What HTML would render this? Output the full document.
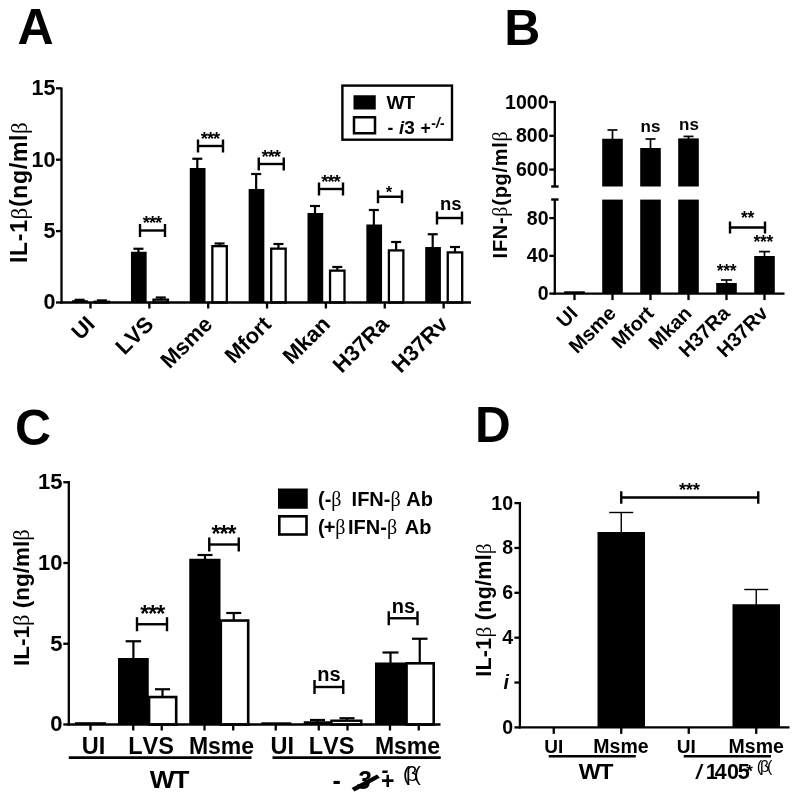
<!DOCTYPE html>
<html lang="en"><head><meta charset="utf-8"><title>Figure</title>
<style>html,body{margin:0;padding:0;background:#fff;}body{width:800px;height:800px;overflow:hidden;}svg{display:block;}text{font-family:"Liberation Sans", Arial, Helvetica, sans-serif;fill:#000;font-kerning:none;}</style></head><body>
<svg width="800" height="800" viewBox="0 0 800 800">
<rect x="0" y="0" width="800" height="800" fill="#fff"/>
<text x="17.40" y="44.00" font-size="50" font-weight="bold" text-anchor="start">A</text>
<text x="504.35" y="45.00" font-size="50" font-weight="bold" text-anchor="start">B</text>
<text x="14.90" y="445.00" font-size="50" font-weight="bold" text-anchor="start">C</text>
<text x="475.10" y="442.00" font-size="49.5" font-weight="bold" text-anchor="start">D</text>
<line x1="79.60" y1="299.80" x2="79.60" y2="301.20" stroke="#000" stroke-width="2.2"/>
<line x1="74.60" y1="299.80" x2="84.60" y2="299.80" stroke="#000" stroke-width="2.2"/>
<rect x="72.10" y="300.20" width="15.70" height="2.30" fill="#000"/>
<line x1="101.90" y1="300.40" x2="101.90" y2="301.60" stroke="#000" stroke-width="2.2"/>
<line x1="96.90" y1="300.40" x2="106.90" y2="300.40" stroke="#000" stroke-width="2.2"/>
<rect x="94.65" y="301.75" width="14.45" height="0.75" fill="#fff" stroke="#000" stroke-width="2.3"/>
<line x1="138.45" y1="248.75" x2="138.45" y2="252.75" stroke="#000" stroke-width="2.2"/>
<line x1="133.45" y1="248.75" x2="143.45" y2="248.75" stroke="#000" stroke-width="2.2"/>
<rect x="130.95" y="251.75" width="15.70" height="50.75" fill="#000"/>
<line x1="160.75" y1="297.50" x2="160.75" y2="299.50" stroke="#000" stroke-width="2.2"/>
<line x1="155.75" y1="297.50" x2="165.75" y2="297.50" stroke="#000" stroke-width="2.2"/>
<rect x="153.50" y="299.65" width="14.45" height="2.85" fill="#fff" stroke="#000" stroke-width="2.3"/>
<line x1="197.30" y1="158.75" x2="197.30" y2="169.00" stroke="#000" stroke-width="2.2"/>
<line x1="192.30" y1="158.75" x2="202.30" y2="158.75" stroke="#000" stroke-width="2.2"/>
<rect x="189.80" y="168.00" width="15.70" height="134.50" fill="#000"/>
<line x1="219.60" y1="243.50" x2="219.60" y2="246.00" stroke="#000" stroke-width="2.2"/>
<line x1="214.60" y1="243.50" x2="224.60" y2="243.50" stroke="#000" stroke-width="2.2"/>
<rect x="212.35" y="246.15" width="14.45" height="56.35" fill="#fff" stroke="#000" stroke-width="2.3"/>
<line x1="256.15" y1="174.00" x2="256.15" y2="190.00" stroke="#000" stroke-width="2.2"/>
<line x1="251.15" y1="174.00" x2="261.15" y2="174.00" stroke="#000" stroke-width="2.2"/>
<rect x="248.65" y="189.00" width="15.70" height="113.50" fill="#000"/>
<line x1="278.45" y1="244.00" x2="278.45" y2="248.50" stroke="#000" stroke-width="2.2"/>
<line x1="273.45" y1="244.00" x2="283.45" y2="244.00" stroke="#000" stroke-width="2.2"/>
<rect x="271.20" y="248.65" width="14.45" height="53.85" fill="#fff" stroke="#000" stroke-width="2.3"/>
<line x1="315.00" y1="206.00" x2="315.00" y2="214.00" stroke="#000" stroke-width="2.2"/>
<line x1="310.00" y1="206.00" x2="320.00" y2="206.00" stroke="#000" stroke-width="2.2"/>
<rect x="307.50" y="213.00" width="15.70" height="89.50" fill="#000"/>
<line x1="337.30" y1="267.00" x2="337.30" y2="270.50" stroke="#000" stroke-width="2.2"/>
<line x1="332.30" y1="267.00" x2="342.30" y2="267.00" stroke="#000" stroke-width="2.2"/>
<rect x="330.05" y="270.65" width="14.45" height="31.85" fill="#fff" stroke="#000" stroke-width="2.3"/>
<line x1="373.85" y1="210.00" x2="373.85" y2="225.50" stroke="#000" stroke-width="2.2"/>
<line x1="368.85" y1="210.00" x2="378.85" y2="210.00" stroke="#000" stroke-width="2.2"/>
<rect x="366.35" y="224.50" width="15.70" height="78.00" fill="#000"/>
<line x1="396.15" y1="242.00" x2="396.15" y2="250.25" stroke="#000" stroke-width="2.2"/>
<line x1="391.15" y1="242.00" x2="401.15" y2="242.00" stroke="#000" stroke-width="2.2"/>
<rect x="388.90" y="250.40" width="14.45" height="52.10" fill="#fff" stroke="#000" stroke-width="2.3"/>
<line x1="432.70" y1="234.25" x2="432.70" y2="248.00" stroke="#000" stroke-width="2.2"/>
<line x1="427.70" y1="234.25" x2="437.70" y2="234.25" stroke="#000" stroke-width="2.2"/>
<rect x="425.20" y="247.00" width="15.70" height="55.50" fill="#000"/>
<line x1="455.00" y1="247.00" x2="455.00" y2="252.25" stroke="#000" stroke-width="2.2"/>
<line x1="450.00" y1="247.00" x2="460.00" y2="247.00" stroke="#000" stroke-width="2.2"/>
<rect x="447.75" y="252.40" width="14.45" height="50.10" fill="#fff" stroke="#000" stroke-width="2.3"/>
<line x1="61.50" y1="87.50" x2="61.50" y2="303.50" stroke="#000" stroke-width="2.3"/>
<line x1="60.50" y1="302.50" x2="471.00" y2="302.50" stroke="#000" stroke-width="2.3"/>
<line x1="56.00" y1="302.50" x2="61.50" y2="302.50" stroke="#000" stroke-width="2.3"/>
<text x="55.50" y="309.40" font-size="21.5" font-weight="bold" text-anchor="end">0</text>
<line x1="56.00" y1="231.10" x2="61.50" y2="231.10" stroke="#000" stroke-width="2.3"/>
<text x="55.50" y="238.00" font-size="21.5" font-weight="bold" text-anchor="end">5</text>
<line x1="56.00" y1="159.70" x2="61.50" y2="159.70" stroke="#000" stroke-width="2.3"/>
<text x="55.50" y="166.60" font-size="21.5" font-weight="bold" text-anchor="end">10</text>
<line x1="56.00" y1="88.30" x2="61.50" y2="88.30" stroke="#000" stroke-width="2.3"/>
<text x="55.50" y="95.20" font-size="21.5" font-weight="bold" text-anchor="end">15</text>
<line x1="90.50" y1="302.50" x2="90.50" y2="308.50" stroke="#000" stroke-width="2.3"/>
<line x1="149.35" y1="302.50" x2="149.35" y2="308.50" stroke="#000" stroke-width="2.3"/>
<line x1="208.20" y1="302.50" x2="208.20" y2="308.50" stroke="#000" stroke-width="2.3"/>
<line x1="267.05" y1="302.50" x2="267.05" y2="308.50" stroke="#000" stroke-width="2.3"/>
<line x1="325.90" y1="302.50" x2="325.90" y2="308.50" stroke="#000" stroke-width="2.3"/>
<line x1="384.75" y1="302.50" x2="384.75" y2="308.50" stroke="#000" stroke-width="2.3"/>
<line x1="443.60" y1="302.50" x2="443.60" y2="308.50" stroke="#000" stroke-width="2.3"/>
<text transform="translate(96.00,325.50) rotate(-45)" font-size="22" font-weight="bold" text-anchor="end">UI</text>
<text transform="translate(154.85,325.50) rotate(-45)" font-size="22" font-weight="bold" text-anchor="end">LVS</text>
<text transform="translate(213.70,325.50) rotate(-45)" font-size="22" font-weight="bold" text-anchor="end">Msme</text>
<text transform="translate(272.55,325.50) rotate(-45)" font-size="22" font-weight="bold" text-anchor="end">Mfort</text>
<text transform="translate(331.40,325.50) rotate(-45)" font-size="22" font-weight="bold" text-anchor="end">Mkan</text>
<text transform="translate(390.25,325.50) rotate(-45)" font-size="22" font-weight="bold" text-anchor="end">H37Ra</text>
<text transform="translate(449.10,325.50) rotate(-45)" font-size="22" font-weight="bold" text-anchor="end">H37Rv</text>
<text transform="translate(27.00,263.00) rotate(-90)" font-size="23" font-weight="bold" text-anchor="start" letter-spacing="0.68">IL-1<tspan font-family='"Liberation Serif", "DejaVu Serif", serif' font-weight="normal">β</tspan>(ng/ml<tspan font-family='"Liberation Serif", "DejaVu Serif", serif' font-weight="normal">β</tspan></text>
<line x1="140.00" y1="230.50" x2="165.00" y2="230.50" stroke="#000" stroke-width="2.4"/>
<line x1="140.00" y1="224.00" x2="140.00" y2="237.00" stroke="#000" stroke-width="2.4"/>
<line x1="165.00" y1="224.00" x2="165.00" y2="237.00" stroke="#000" stroke-width="2.4"/>
<text x="152.00" y="229.30" font-size="18.5" font-weight="bold" text-anchor="middle" letter-spacing="-1">***</text>
<line x1="198.00" y1="146.00" x2="223.00" y2="146.00" stroke="#000" stroke-width="2.4"/>
<line x1="198.00" y1="139.50" x2="198.00" y2="152.50" stroke="#000" stroke-width="2.4"/>
<line x1="223.00" y1="139.50" x2="223.00" y2="152.50" stroke="#000" stroke-width="2.4"/>
<text x="210.00" y="144.80" font-size="18.5" font-weight="bold" text-anchor="middle" letter-spacing="-1">***</text>
<line x1="258.75" y1="164.00" x2="283.75" y2="164.00" stroke="#000" stroke-width="2.4"/>
<line x1="258.75" y1="157.50" x2="258.75" y2="170.50" stroke="#000" stroke-width="2.4"/>
<line x1="283.75" y1="157.50" x2="283.75" y2="170.50" stroke="#000" stroke-width="2.4"/>
<text x="270.75" y="162.80" font-size="18.5" font-weight="bold" text-anchor="middle" letter-spacing="-1">***</text>
<line x1="319.00" y1="189.00" x2="343.00" y2="189.00" stroke="#000" stroke-width="2.4"/>
<line x1="319.00" y1="182.50" x2="319.00" y2="195.50" stroke="#000" stroke-width="2.4"/>
<line x1="343.00" y1="182.50" x2="343.00" y2="195.50" stroke="#000" stroke-width="2.4"/>
<text x="330.50" y="187.80" font-size="18.5" font-weight="bold" text-anchor="middle" letter-spacing="-1">***</text>
<line x1="378.00" y1="196.75" x2="402.00" y2="196.75" stroke="#000" stroke-width="2.4"/>
<line x1="378.00" y1="190.25" x2="378.00" y2="203.25" stroke="#000" stroke-width="2.4"/>
<line x1="402.00" y1="190.25" x2="402.00" y2="203.25" stroke="#000" stroke-width="2.4"/>
<text x="389.00" y="197.55" font-size="16.5" font-weight="bold" text-anchor="middle">*</text>
<line x1="437.00" y1="218.00" x2="462.00" y2="218.00" stroke="#000" stroke-width="2.4"/>
<line x1="437.00" y1="211.50" x2="437.00" y2="224.50" stroke="#000" stroke-width="2.4"/>
<line x1="462.00" y1="211.50" x2="462.00" y2="224.50" stroke="#000" stroke-width="2.4"/>
<text x="450.75" y="210.00" font-size="18.5" font-weight="bold" text-anchor="middle">ns</text>
<rect x="342.4" y="85.6" width="109.6" height="54.1" fill="#fff" stroke="#000" stroke-width="2.4"/>
<rect x="353.50" y="95.25" width="22.25" height="14.25" fill="#000"/>
<rect x="354.00" y="117.25" width="21.00" height="16.00" fill="#fff" stroke="#000" stroke-width="2.5"/>
<text transform="translate(386.6,108.9) scale(1.07,1)" font-size="17.8" font-weight="bold" letter-spacing="-1">WT</text>
<text x="387.5" y="133.75" font-size="17.5" font-weight="bold">- <tspan font-style="italic" dx="0.8" font-size="18.5">i</tspan><tspan font-size="19">3</tspan> <tspan dx="1">+</tspan><tspan font-style="italic" font-size="14" dy="-6" dx="0.5">-/-</tspan></text>
<rect x="564.20" y="291.30" width="20.60" height="2.30" fill="#000"/>
<rect x="602.20" y="199.60" width="20.60" height="94.00" fill="#000"/>
<line x1="612.50" y1="130.00" x2="612.50" y2="139.75" stroke="#000" stroke-width="1.7"/>
<line x1="607.50" y1="130.00" x2="617.50" y2="130.00" stroke="#000" stroke-width="1.7"/>
<rect x="602.20" y="138.75" width="20.60" height="47.75" fill="#000"/>
<rect x="640.20" y="199.60" width="20.60" height="94.00" fill="#000"/>
<line x1="650.50" y1="139.00" x2="650.50" y2="149.00" stroke="#000" stroke-width="1.7"/>
<line x1="645.50" y1="139.00" x2="655.50" y2="139.00" stroke="#000" stroke-width="1.7"/>
<rect x="640.20" y="148.00" width="20.60" height="38.50" fill="#000"/>
<rect x="678.20" y="199.60" width="20.60" height="94.00" fill="#000"/>
<line x1="688.50" y1="136.40" x2="688.50" y2="139.40" stroke="#000" stroke-width="1.7"/>
<line x1="683.50" y1="136.40" x2="693.50" y2="136.40" stroke="#000" stroke-width="1.7"/>
<rect x="678.20" y="138.40" width="20.60" height="48.10" fill="#000"/>
<line x1="726.50" y1="280.00" x2="726.50" y2="284.00" stroke="#000" stroke-width="1.7"/>
<line x1="721.00" y1="280.00" x2="732.00" y2="280.00" stroke="#000" stroke-width="1.7"/>
<rect x="716.20" y="283.00" width="20.60" height="10.60" fill="#000"/>
<line x1="764.50" y1="251.60" x2="764.50" y2="257.00" stroke="#000" stroke-width="1.7"/>
<line x1="759.00" y1="251.60" x2="770.00" y2="251.60" stroke="#000" stroke-width="1.7"/>
<rect x="754.20" y="256.00" width="20.60" height="37.60" fill="#000"/>
<line x1="554.80" y1="101.00" x2="554.80" y2="186.50" stroke="#000" stroke-width="2.3"/>
<line x1="551.20" y1="186.50" x2="558.60" y2="186.50" stroke="#000" stroke-width="2.4"/>
<line x1="554.80" y1="199.50" x2="554.80" y2="294.60" stroke="#000" stroke-width="2.3"/>
<line x1="551.20" y1="199.50" x2="558.60" y2="199.50" stroke="#000" stroke-width="2.4"/>
<line x1="553.80" y1="293.60" x2="784.50" y2="293.60" stroke="#000" stroke-width="2.3"/>
<line x1="549.30" y1="169.60" x2="554.80" y2="169.60" stroke="#000" stroke-width="2.3"/>
<text x="548.50" y="176.20" font-size="19.5" font-weight="bold" text-anchor="end">600</text>
<line x1="549.30" y1="135.80" x2="554.80" y2="135.80" stroke="#000" stroke-width="2.3"/>
<text x="548.50" y="142.40" font-size="19.5" font-weight="bold" text-anchor="end">800</text>
<line x1="549.30" y1="102.00" x2="554.80" y2="102.00" stroke="#000" stroke-width="2.3"/>
<text x="548.50" y="108.60" font-size="19.5" font-weight="bold" text-anchor="end">1000</text>
<line x1="549.30" y1="293.60" x2="554.80" y2="293.60" stroke="#000" stroke-width="2.3"/>
<text x="548.50" y="300.20" font-size="19.5" font-weight="bold" text-anchor="end">0</text>
<line x1="549.30" y1="255.85" x2="554.80" y2="255.85" stroke="#000" stroke-width="2.3"/>
<text x="548.50" y="262.45" font-size="19.5" font-weight="bold" text-anchor="end">40</text>
<line x1="549.30" y1="218.10" x2="554.80" y2="218.10" stroke="#000" stroke-width="2.3"/>
<text x="548.50" y="224.70" font-size="19.5" font-weight="bold" text-anchor="end">80</text>
<line x1="574.50" y1="293.60" x2="574.50" y2="300.10" stroke="#000" stroke-width="2.3"/>
<line x1="612.50" y1="293.60" x2="612.50" y2="300.10" stroke="#000" stroke-width="2.3"/>
<line x1="650.50" y1="293.60" x2="650.50" y2="300.10" stroke="#000" stroke-width="2.3"/>
<line x1="688.50" y1="293.60" x2="688.50" y2="300.10" stroke="#000" stroke-width="2.3"/>
<line x1="726.50" y1="293.60" x2="726.50" y2="300.10" stroke="#000" stroke-width="2.3"/>
<line x1="764.50" y1="293.60" x2="764.50" y2="300.10" stroke="#000" stroke-width="2.3"/>
<text transform="translate(579.00,314.50) rotate(-45)" font-size="20" font-weight="bold" text-anchor="end">UI</text>
<text transform="translate(617.00,314.50) rotate(-45)" font-size="20" font-weight="bold" text-anchor="end">Msme</text>
<text transform="translate(655.00,314.50) rotate(-45)" font-size="20" font-weight="bold" text-anchor="end">Mfort</text>
<text transform="translate(693.00,314.50) rotate(-45)" font-size="20" font-weight="bold" text-anchor="end">Mkan</text>
<text transform="translate(731.00,314.50) rotate(-45)" font-size="20" font-weight="bold" text-anchor="end">H37Ra</text>
<text transform="translate(769.00,314.50) rotate(-45)" font-size="20" font-weight="bold" text-anchor="end">H37Rv</text>
<text transform="translate(507.00,258.40) rotate(-90)" font-size="20" font-weight="bold" text-anchor="start" letter-spacing="0.72">IFN-<tspan font-family='"Liberation Serif", "DejaVu Serif", serif' font-weight="normal">β</tspan>(pg/ml<tspan font-family='"Liberation Serif", "DejaVu Serif", serif' font-weight="normal">β</tspan></text>
<text x="650.50" y="131.50" font-size="17" font-weight="bold" text-anchor="middle">ns</text>
<text x="689.00" y="130.00" font-size="17" font-weight="bold" text-anchor="middle">ns</text>
<text x="726.60" y="277.00" font-size="17.5" font-weight="bold" text-anchor="middle" letter-spacing="-0.3">***</text>
<text x="763.30" y="247.80" font-size="17.5" font-weight="bold" text-anchor="middle" letter-spacing="-0.3">***</text>
<line x1="730.00" y1="227.50" x2="765.00" y2="227.50" stroke="#000" stroke-width="2.4"/>
<line x1="730.00" y1="221.50" x2="730.00" y2="233.50" stroke="#000" stroke-width="2.4"/>
<line x1="765.00" y1="221.50" x2="765.00" y2="233.50" stroke="#000" stroke-width="2.4"/>
<text x="747.40" y="223.80" font-size="17.5" font-weight="bold" text-anchor="middle" letter-spacing="-0.3">**</text>
<rect x="75.00" y="722.20" width="31.00" height="2.30" fill="#000"/>
<line x1="133.40" y1="641.25" x2="133.40" y2="659.00" stroke="#000" stroke-width="2.2"/>
<line x1="125.65" y1="641.25" x2="141.15" y2="641.25" stroke="#000" stroke-width="2.2"/>
<rect x="118.00" y="658.00" width="30.75" height="66.50" fill="#000"/>
<line x1="162.50" y1="689.25" x2="162.50" y2="697.00" stroke="#000" stroke-width="2.2"/>
<line x1="155.00" y1="689.25" x2="170.00" y2="689.25" stroke="#000" stroke-width="2.2"/>
<rect x="149.05" y="697.05" width="27.15" height="27.45" fill="#fff" stroke="#000" stroke-width="2.6"/>
<line x1="205.00" y1="555.00" x2="205.00" y2="560.00" stroke="#000" stroke-width="2.2"/>
<line x1="197.50" y1="555.00" x2="212.50" y2="555.00" stroke="#000" stroke-width="2.2"/>
<rect x="189.25" y="558.75" width="31.25" height="165.75" fill="#000"/>
<line x1="233.75" y1="613.00" x2="233.75" y2="620.00" stroke="#000" stroke-width="2.2"/>
<line x1="226.25" y1="613.00" x2="241.25" y2="613.00" stroke="#000" stroke-width="2.2"/>
<rect x="220.80" y="620.55" width="27.40" height="103.95" fill="#fff" stroke="#000" stroke-width="2.6"/>
<rect x="261.25" y="722.30" width="30.00" height="2.20" fill="#000"/>
<line x1="317.50" y1="720.00" x2="317.50" y2="722.00" stroke="#000" stroke-width="2.2"/>
<line x1="310.00" y1="720.00" x2="325.00" y2="720.00" stroke="#000" stroke-width="2.2"/>
<rect x="303.75" y="721.25" width="27.50" height="3.25" fill="#000"/>
<line x1="347.00" y1="718.25" x2="347.00" y2="720.00" stroke="#000" stroke-width="2.2"/>
<line x1="339.50" y1="718.25" x2="354.50" y2="718.25" stroke="#000" stroke-width="2.2"/>
<rect x="331.45" y="720.70" width="29.85" height="3.80" fill="#fff" stroke="#000" stroke-width="2.4"/>
<line x1="390.50" y1="652.50" x2="390.50" y2="664.00" stroke="#000" stroke-width="2.2"/>
<line x1="382.50" y1="652.50" x2="398.50" y2="652.50" stroke="#000" stroke-width="2.2"/>
<rect x="375.00" y="662.50" width="31.25" height="62.00" fill="#000"/>
<line x1="419.75" y1="638.75" x2="419.75" y2="663.00" stroke="#000" stroke-width="2.2"/>
<line x1="412.00" y1="638.75" x2="427.50" y2="638.75" stroke="#000" stroke-width="2.2"/>
<rect x="406.55" y="663.30" width="27.15" height="61.20" fill="#fff" stroke="#000" stroke-width="2.6"/>
<line x1="68.80" y1="481.00" x2="68.80" y2="725.50" stroke="#000" stroke-width="2.3"/>
<line x1="67.80" y1="724.50" x2="440.50" y2="724.50" stroke="#000" stroke-width="2.3"/>
<line x1="63.30" y1="724.50" x2="68.80" y2="724.50" stroke="#000" stroke-width="2.3"/>
<text x="62.50" y="731.40" font-size="22" font-weight="bold" text-anchor="end">0</text>
<line x1="63.30" y1="643.75" x2="68.80" y2="643.75" stroke="#000" stroke-width="2.3"/>
<text x="62.50" y="650.65" font-size="22" font-weight="bold" text-anchor="end">5</text>
<line x1="63.30" y1="563.00" x2="68.80" y2="563.00" stroke="#000" stroke-width="2.3"/>
<text x="62.50" y="569.90" font-size="22" font-weight="bold" text-anchor="end">10</text>
<line x1="63.30" y1="482.25" x2="68.80" y2="482.25" stroke="#000" stroke-width="2.3"/>
<text x="62.50" y="489.15" font-size="22" font-weight="bold" text-anchor="end">15</text>
<line x1="90.50" y1="724.50" x2="90.50" y2="730.50" stroke="#000" stroke-width="2.3"/>
<line x1="133.25" y1="724.50" x2="133.25" y2="730.50" stroke="#000" stroke-width="2.3"/>
<line x1="161.75" y1="724.50" x2="161.75" y2="730.50" stroke="#000" stroke-width="2.3"/>
<line x1="204.50" y1="724.50" x2="204.50" y2="730.50" stroke="#000" stroke-width="2.3"/>
<line x1="233.25" y1="724.50" x2="233.25" y2="730.50" stroke="#000" stroke-width="2.3"/>
<line x1="275.75" y1="724.50" x2="275.75" y2="730.50" stroke="#000" stroke-width="2.3"/>
<line x1="318.75" y1="724.50" x2="318.75" y2="730.50" stroke="#000" stroke-width="2.3"/>
<line x1="347.50" y1="724.50" x2="347.50" y2="730.50" stroke="#000" stroke-width="2.3"/>
<line x1="390.00" y1="724.50" x2="390.00" y2="730.50" stroke="#000" stroke-width="2.3"/>
<line x1="418.75" y1="724.50" x2="418.75" y2="730.50" stroke="#000" stroke-width="2.3"/>
<text transform="translate(29.00,666.00) rotate(-90)" font-size="22.5" font-weight="bold" text-anchor="start">IL-1<tspan font-family='"Liberation Serif", "DejaVu Serif", serif' font-weight="normal">β</tspan> (ng/ml<tspan font-family='"Liberation Serif", "DejaVu Serif", serif' font-weight="normal">β</tspan></text>
<line x1="137.00" y1="624.25" x2="167.00" y2="624.25" stroke="#000" stroke-width="2.4"/>
<line x1="137.00" y1="617.25" x2="137.00" y2="631.25" stroke="#000" stroke-width="2.4"/>
<line x1="167.00" y1="617.25" x2="167.00" y2="631.25" stroke="#000" stroke-width="2.4"/>
<text x="152.30" y="622.30" font-size="23" font-weight="bold" text-anchor="middle" letter-spacing="-0.9">***</text>
<line x1="209.25" y1="544.50" x2="238.75" y2="544.50" stroke="#000" stroke-width="2.4"/>
<line x1="209.25" y1="537.50" x2="209.25" y2="551.50" stroke="#000" stroke-width="2.4"/>
<line x1="238.75" y1="537.50" x2="238.75" y2="551.50" stroke="#000" stroke-width="2.4"/>
<text x="223.60" y="542.30" font-size="23" font-weight="bold" text-anchor="middle" letter-spacing="-0.9">***</text>
<line x1="314.50" y1="687.00" x2="343.25" y2="687.00" stroke="#000" stroke-width="2.4"/>
<line x1="314.50" y1="680.00" x2="314.50" y2="694.00" stroke="#000" stroke-width="2.4"/>
<line x1="343.25" y1="680.00" x2="343.25" y2="694.00" stroke="#000" stroke-width="2.4"/>
<text x="329.00" y="681.25" font-size="20" font-weight="bold" text-anchor="middle">ns</text>
<line x1="388.75" y1="618.25" x2="417.50" y2="618.25" stroke="#000" stroke-width="2.4"/>
<line x1="388.75" y1="611.25" x2="388.75" y2="625.25" stroke="#000" stroke-width="2.4"/>
<line x1="417.50" y1="611.25" x2="417.50" y2="625.25" stroke="#000" stroke-width="2.4"/>
<text x="403.50" y="612.50" font-size="20" font-weight="bold" text-anchor="middle">ns</text>
<text x="93.50" y="754.25" font-size="23.5" font-weight="bold" text-anchor="middle">UI</text>
<text x="151.00" y="754.25" font-size="23.5" font-weight="bold" text-anchor="middle">LVS</text>
<text x="221.50" y="754.25" font-size="23" font-weight="bold" text-anchor="middle">Msme</text>
<text x="282.25" y="754.25" font-size="23.5" font-weight="bold" text-anchor="middle">UI</text>
<text x="331.50" y="754.25" font-size="23.5" font-weight="bold" text-anchor="middle">LVS</text>
<text x="407.50" y="754.25" font-size="23" font-weight="bold" text-anchor="middle">Msme</text>
<line x1="68.75" y1="757.60" x2="251.50" y2="757.60" stroke="#000" stroke-width="2.9"/>
<line x1="272.50" y1="757.60" x2="440.75" y2="757.60" stroke="#000" stroke-width="2.9"/>
<text transform="translate(168.75,787.75) scale(1.08,1)" font-size="24.5" font-weight="bold" text-anchor="middle" letter-spacing="-1.5">WT</text>
<text x="332.50" y="789.00" font-size="25" font-weight="bold" text-anchor="start">-</text>
<text x="357" y="789" font-size="25" font-weight="bold" font-style="italic">3</text>
<text transform="translate(352,787.2) rotate(51)" font-size="38" font-weight="bold">/</text>
<text x="381.5" y="776.5" font-size="21" font-weight="bold" font-style="italic">-</text>
<text x="381.00" y="789.00" font-size="23" font-weight="bold" text-anchor="start">+</text>
<text x="403" y="781" font-size="20.5" font-weight="normal" font-family='"Liberation Serif", "DejaVu Serif", serif' letter-spacing="-3.8">(β(</text>
<rect x="278.00" y="488.50" width="29.75" height="20.25" fill="#000"/>
<rect x="279.30" y="516.30" width="27.20" height="18.20" fill="#fff" stroke="#000" stroke-width="2.6"/>
<text x="318" y="506" font-size="20" font-weight="bold">(-<tspan font-family='"Liberation Serif", "DejaVu Serif", serif' font-weight="normal">β</tspan> <tspan dx="4.5">IFN-</tspan><tspan font-family='"Liberation Serif", "DejaVu Serif", serif' font-weight="normal">β</tspan> Ab</text>
<text x="318" y="534.25" font-size="20" font-weight="bold">(<tspan dx="-1">+</tspan><tspan font-family='"Liberation Serif", "DejaVu Serif", serif' font-weight="normal">β</tspan><tspan dx="2.5">IFN-</tspan><tspan font-family='"Liberation Serif", "DejaVu Serif", serif' font-weight="normal">β</tspan> <tspan dx="2">Ab</tspan></text>
<line x1="621.25" y1="512.50" x2="621.25" y2="533.00" stroke="#000" stroke-width="1.4"/>
<line x1="609.25" y1="512.50" x2="633.25" y2="512.50" stroke="#000" stroke-width="1.4"/>
<rect x="597.50" y="532.00" width="47.50" height="195.40" fill="#000"/>
<line x1="756.25" y1="589.50" x2="756.25" y2="605.00" stroke="#000" stroke-width="1.4"/>
<line x1="744.25" y1="589.50" x2="768.25" y2="589.50" stroke="#000" stroke-width="1.4"/>
<rect x="732.50" y="604.25" width="47.50" height="123.15" fill="#000"/>
<line x1="519.90" y1="502.00" x2="519.90" y2="728.40" stroke="#000" stroke-width="2.3"/>
<line x1="518.90" y1="727.40" x2="789.50" y2="727.40" stroke="#000" stroke-width="2.3"/>
<line x1="514.40" y1="727.40" x2="519.90" y2="727.40" stroke="#000" stroke-width="2.3"/>
<text x="513.00" y="733.80" font-size="19.5" font-weight="bold" text-anchor="end">0</text>
<line x1="514.40" y1="637.68" x2="519.90" y2="637.68" stroke="#000" stroke-width="2.3"/>
<text x="513.00" y="644.08" font-size="19.5" font-weight="bold" text-anchor="end">4</text>
<line x1="514.40" y1="592.82" x2="519.90" y2="592.82" stroke="#000" stroke-width="2.3"/>
<text x="513.00" y="599.22" font-size="19.5" font-weight="bold" text-anchor="end">6</text>
<line x1="514.40" y1="547.96" x2="519.90" y2="547.96" stroke="#000" stroke-width="2.3"/>
<text x="513.00" y="554.36" font-size="19.5" font-weight="bold" text-anchor="end">8</text>
<line x1="514.40" y1="503.10" x2="519.90" y2="503.10" stroke="#000" stroke-width="2.3"/>
<text x="513.00" y="509.50" font-size="19.5" font-weight="bold" text-anchor="end">10</text>
<line x1="514.40" y1="682.54" x2="519.90" y2="682.54" stroke="#000" stroke-width="2.3"/>
<text x="509" y="688.74" font-size="19.5" font-weight="bold" font-style="italic" text-anchor="end">i</text>
<line x1="553.75" y1="727.40" x2="553.75" y2="733.90" stroke="#000" stroke-width="2.3"/>
<line x1="621.25" y1="727.40" x2="621.25" y2="733.90" stroke="#000" stroke-width="2.3"/>
<line x1="688.75" y1="727.40" x2="688.75" y2="733.90" stroke="#000" stroke-width="2.3"/>
<line x1="756.25" y1="727.40" x2="756.25" y2="733.90" stroke="#000" stroke-width="2.3"/>
<text transform="translate(491.00,676.80) rotate(-90)" font-size="21.5" font-weight="bold" text-anchor="start" letter-spacing="0.25">IL-1<tspan font-family='"Liberation Serif", "DejaVu Serif", serif' font-weight="normal">β</tspan> (ng/ml<tspan font-family='"Liberation Serif", "DejaVu Serif", serif' font-weight="normal">β</tspan></text>
<line x1="621.25" y1="497.50" x2="758.25" y2="497.50" stroke="#000" stroke-width="2.4"/>
<line x1="621.25" y1="491.25" x2="621.25" y2="503.75" stroke="#000" stroke-width="2.4"/>
<line x1="758.25" y1="491.25" x2="758.25" y2="503.75" stroke="#000" stroke-width="2.4"/>
<text x="689.25" y="496.00" font-size="18.5" font-weight="bold" text-anchor="middle" letter-spacing="-0.4">***</text>
<text x="553.75" y="752.50" font-size="19" font-weight="bold" text-anchor="middle">UI</text>
<text x="621.00" y="752.50" font-size="19.5" font-weight="bold" text-anchor="middle">Msme</text>
<text x="686.25" y="752.50" font-size="19" font-weight="bold" text-anchor="middle">UI</text>
<text x="756.25" y="752.50" font-size="19.5" font-weight="bold" text-anchor="middle">Msme</text>
<line x1="548.75" y1="756.30" x2="635.75" y2="756.30" stroke="#000" stroke-width="2.6"/>
<line x1="683.75" y1="756.30" x2="771.00" y2="756.30" stroke="#000" stroke-width="2.6"/>
<text transform="translate(595.5,778.75) scale(1.08,1)" font-size="21.5" font-weight="bold" text-anchor="middle" letter-spacing="-1.3">WT</text>
<text x="696" y="779" font-size="20.5" font-weight="bold" font-style="italic">/</text>
<text x="705.8" y="779" font-size="21.5" font-weight="bold" letter-spacing="-1.35">1<tspan dx="-1.6">4</tspan><tspan dx="1.6">0</tspan>5</text>
<text x="746.2" y="776.6" font-size="17" font-weight="bold">*</text>
<text x="756.8" y="771.6" font-size="16" font-weight="normal" font-family='"Liberation Serif", "DejaVu Serif", serif' letter-spacing="-2.2">(β(</text>
</svg></body></html>
